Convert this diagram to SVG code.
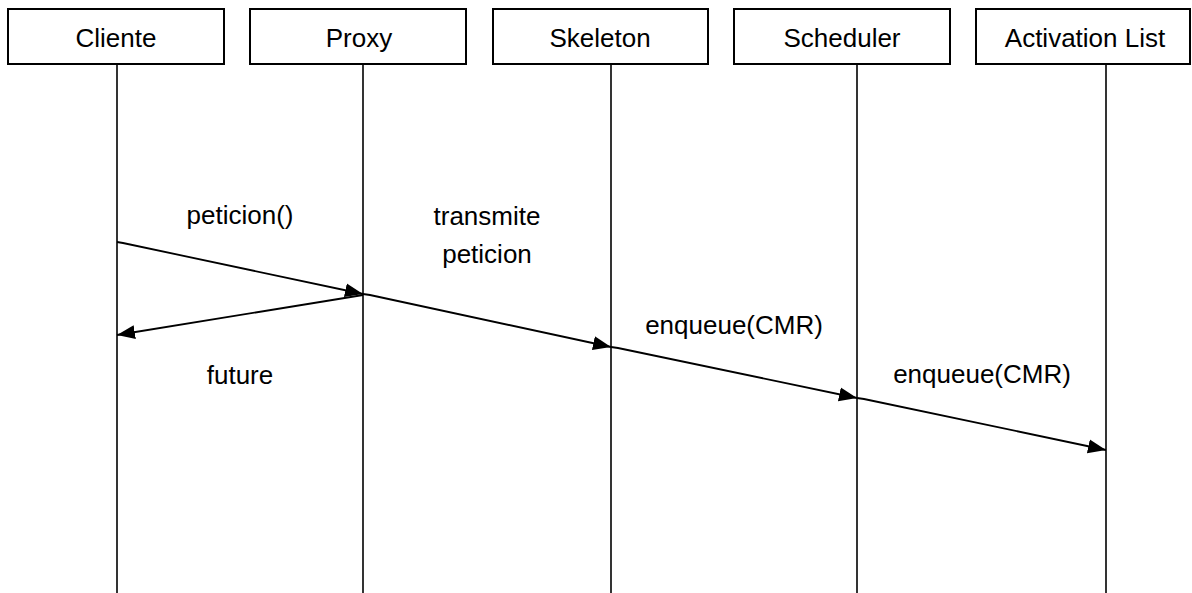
<svg xmlns="http://www.w3.org/2000/svg" width="1192" height="593" viewBox="0 0 1192 593">
<style>
.box{fill:#fff;stroke:#000;stroke-width:2}
.life{stroke:#000;stroke-width:1.6;fill:none}
.msg{stroke:#000;stroke-width:1.8;fill:none;marker-end:url(#ah)}
text{font-family:"Liberation Sans",Arial,sans-serif;font-size:26px;fill:#000;text-anchor:middle}
</style>
<defs>
<marker id="ah" markerUnits="userSpaceOnUse" markerWidth="20" markerHeight="16" refX="18" refY="8" orient="auto">
<path d="M0,1 L18,8 L0,15 z" fill="#000"/>
</marker>
</defs>
<rect width="1192" height="593" fill="#fff"/>
<g id="cliente">
<rect class="box" x="8" y="9" width="216" height="55"/>
<text x="116" y="47">Cliente</text>
<line class="life" x1="117" y1="64" x2="117" y2="593"/>
</g>
<g id="proxy">
<rect class="box" x="250" y="9" width="216" height="55"/>
<text x="359" y="47">Proxy</text>
<line class="life" x1="363" y1="64" x2="363" y2="593"/>
</g>
<g id="skeleton">
<rect class="box" x="493" y="9" width="215" height="55"/>
<text x="600" y="47">Skeleton</text>
<line class="life" x1="611" y1="64" x2="611" y2="593"/>
</g>
<g id="scheduler">
<rect class="box" x="734" y="9" width="216" height="55"/>
<text x="842" y="47">Scheduler</text>
<line class="life" x1="857" y1="64" x2="857" y2="593"/>
</g>
<g id="activation-list">
<rect class="box" x="976" y="9" width="214" height="55"/>
<text x="1085" y="47">Activation List</text>
<line class="life" x1="1106" y1="64" x2="1106" y2="593"/>
</g>
<g id="connectors">
<path class="msg" d="M117,242 L123,243 L363,294"/>
<path class="msg" d="M363,295 L117,335"/>
<path class="msg" d="M363,294 L370,295 L611,347"/>
<path class="msg" d="M611,347 L618,348 L857,398"/>
<path class="msg" d="M857,398 L864,399 L1106,450"/>
</g>
<g id="labels">
<text x="240" y="224">peticion()</text>
<text x="487" y="225">transmite</text>
<text x="487" y="263">peticion</text>
<text x="240" y="384">future</text>
<text x="734" y="334">enqueue(CMR)</text>
<text x="982" y="383">enqueue(CMR)</text>
</g>
</svg>
